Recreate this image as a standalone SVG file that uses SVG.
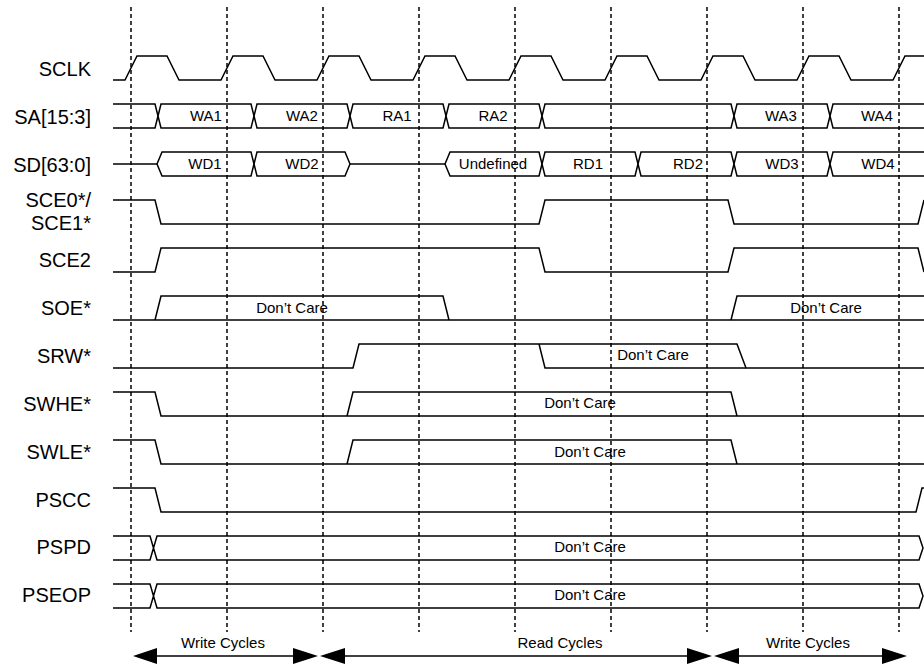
<svg xmlns="http://www.w3.org/2000/svg" width="924" height="665" viewBox="0 0 924 665">
<style>
  .sig { fill: none; stroke: #000; stroke-width: 1.5; stroke-linejoin: miter; }
  .lbl { font-family: "Liberation Sans", Arial, sans-serif; font-size: 20px; fill: #000; text-anchor: end; }
  .in { font-family: "Liberation Sans", Arial, sans-serif; font-size: 15px; fill: #000; text-anchor: middle; }
  .grid { stroke: #000; stroke-width: 1.5; stroke-dasharray: 4 3; }
  .arr { stroke: #000; stroke-width: 1.5; fill: none; }
  .head { fill: #000; stroke: none; }
</style>
<rect width="924" height="665" fill="#fff"/>

<g id="SCLK">
  <text class="lbl" x="91" y="76">SCLK</text>
  <path class="sig" d="M113,80 H125 L137,56 H167 L179,80 H221 L233,56 H263 L275,80 H317 L329,56 H359 L371,80 H413 L425,56 H455 L467,80 H509 L521,56 H551 L563,80 H605 L617,56 H647 L659,80 H701 L713,56 H743 L755,80 H797 L809,56 H839 L851,80 H893 L905,56 H924"/>
</g>

<g id="SA">
  <text class="lbl" x="91" y="124">SA[15:3]</text>
  <path class="sig" d="M113,104 H155 L158,116 L155,128 H113"/>
  <path class="sig" d="M161,104 H251 L254,116 L251,128 H161 L158,116 Z"/>
  <path class="sig" d="M257,104 H347 L350,116 L347,128 H257 L254,116 Z"/>
  <path class="sig" d="M353,104 H443 L446,116 L443,128 H353 L350,116 Z"/>
  <path class="sig" d="M449,104 H539 L542,116 L539,128 H449 L446,116 Z"/>
  <path class="sig" d="M545,104 H731 L734,116 L731,128 H545 L542,116 Z"/>
  <path class="sig" d="M737,104 H827 L830,116 L827,128 H737 L734,116 Z"/>
  <path class="sig" d="M924,104 H833 L830,116 L833,128 H924"/>
  <text class="in" x="206" y="121">WA1</text>
  <text class="in" x="302" y="121">WA2</text>
  <text class="in" x="397" y="121">RA1</text>
  <text class="in" x="493" y="121">RA2</text>
  <text class="in" x="781" y="121">WA3</text>
  <text class="in" x="877" y="121">WA4</text>
</g>

<g id="SD">
  <text class="lbl" x="91" y="172">SD[63:0]</text>
  <path class="sig" d="M113,164 H157"/>
  <path class="sig" d="M157,164 L162,152 H251 L254,164 L251,176 H162 Z"/>
  <path class="sig" d="M254,164 L257,152 H345 L350,164 L345,176 H257 Z"/>
  <path class="sig" d="M350,164 H445"/>
  <path class="sig" d="M445,164 L450,152 H539 L542,164 L539,176 H450 Z"/>
  <path class="sig" d="M545,152 H635 L638,164 L635,176 H545 L542,164 Z"/>
  <path class="sig" d="M641,152 H731 L734,164 L731,176 H641 L638,164 Z"/>
  <path class="sig" d="M737,152 H827 L830,164 L827,176 H737 L734,164 Z"/>
  <path class="sig" d="M924,152 H833 L830,164 L833,176 H924"/>
  <text class="in" x="205" y="169">WD1</text>
  <text class="in" x="302" y="169">WD2</text>
  <text class="in" x="493" y="169">Undefined</text>
  <text class="in" x="588" y="169">RD1</text>
  <text class="in" x="688" y="169">RD2</text>
  <text class="in" x="782" y="169">WD3</text>
  <text class="in" x="878" y="169">WD4</text>
</g>

<g id="SCE0">
  <text class="lbl" x="91" y="207">SCE0*/</text>
  <text class="lbl" x="91" y="230">SCE1*</text>
  <path class="sig" d="M113,200 H155 L161,224 H539 L545,200 H728 L734,224 H918 L924,200"/>
</g>

<g id="SCE2">
  <text class="lbl" x="91" y="267">SCE2</text>
  <path class="sig" d="M113,272 H155 L161,248 H539 L545,272 H728 L734,248 H918 L924,272"/>
</g>

<g id="SOE">
  <text class="lbl" x="91" y="315">SOE*</text>
  <path class="sig" d="M113,320 H924"/>
  <path class="sig" d="M155,320 L161,296 H443 L449,320"/>
  <path class="sig" d="M731,320 L737,296 H924"/>
  <text class="in" x="292" y="313">Don’t Care</text>
  <text class="in" x="826" y="313">Don’t Care</text>
</g>

<g id="SRW">
  <text class="lbl" x="91" y="363">SRW*</text>
  <path class="sig" d="M113,368 H353 L359,344 H737 L746,368 H924"/>
  <path class="sig" d="M539,344 L545,368 H746"/>
  <text class="in" x="653" y="360">Don’t Care</text>
</g>

<g id="SWHE">
  <text class="lbl" x="91" y="411">SWHE*</text>
  <path class="sig" d="M113,392 H155 L161,416 H924"/>
  <path class="sig" d="M347,416 L353,392 H731 L737,416"/>
  <text class="in" x="580" y="408">Don’t Care</text>
</g>

<g id="SWLE">
  <text class="lbl" x="91" y="459">SWLE*</text>
  <path class="sig" d="M113,440 H155 L161,464 H924"/>
  <path class="sig" d="M347,464 L353,440 H731 L737,464"/>
  <text class="in" x="590" y="457">Don’t Care</text>
</g>

<g id="PSCC">
  <text class="lbl" x="91" y="507">PSCC</text>
  <path class="sig" d="M113,488 H155 L161,512 H916 L922,488 H924"/>
</g>

<g id="PSPD">
  <text class="lbl" x="91" y="554">PSPD</text>
  <path class="sig" d="M113,536 H150 L157,560 H919 L923,548 L919,536 H157 L150,560 H113"/>
  <text class="in" x="590" y="552">Don’t Care</text>
</g>

<g id="PSEOP">
  <text class="lbl" x="91" y="602">PSEOP</text>
  <path class="sig" d="M113,584 H150 L157,608 H919 L923,596 L919,584 H157 L150,608 H113"/>
  <text class="in" x="590" y="600">Don’t Care</text>
</g>

<g id="connectors">
  <line class="grid" x1="131" y1="7" x2="131" y2="632"/>
  <line class="grid" x1="227" y1="7" x2="227" y2="632"/>
  <line class="grid" x1="323" y1="7" x2="323" y2="632"/>
  <line class="grid" x1="419" y1="7" x2="419" y2="632"/>
  <line class="grid" x1="515" y1="7" x2="515" y2="632"/>
  <line class="grid" x1="611" y1="7" x2="611" y2="632"/>
  <line class="grid" x1="707" y1="7" x2="707" y2="632"/>
  <line class="grid" x1="803" y1="7" x2="803" y2="632"/>
  <line class="grid" x1="899" y1="7" x2="899" y2="632"/>

  <line class="arr" x1="150" y1="656" x2="300" y2="656"/>
  <polygon class="head" points="133,656 157,648 157,664"/>
  <polygon class="head" points="318,656 293,648 293,664"/>
  <line class="arr" x1="340" y1="656" x2="695" y2="656"/>
  <polygon class="head" points="320,656 345,648 345,664"/>
  <polygon class="head" points="712,656 687,648 687,664"/>
  <line class="arr" x1="730" y1="656" x2="890" y2="656"/>
  <polygon class="head" points="714,656 739,648 739,664"/>
  <polygon class="head" points="907,656 882,648 882,664"/>
</g>
<text class="in" x="223" y="648">Write Cycles</text>
<text class="in" x="560" y="648">Read Cycles</text>
<text class="in" x="808" y="648">Write Cycles</text>
</svg>
